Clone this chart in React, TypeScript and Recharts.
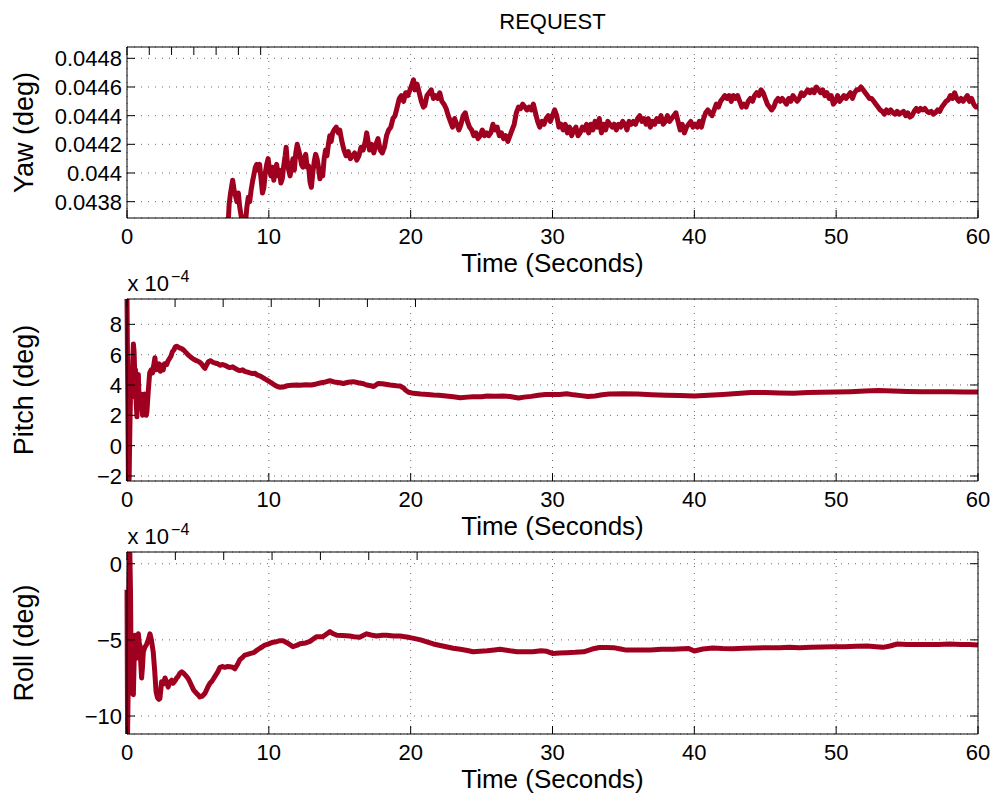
import { LineChart, Line, XAxis, YAxis, CartesianGrid } from "recharts";

// values
const TIME_TICKS = [0, 10, 20, 30, 40, 50, 60];

const YAW_TICKS = [0.0438, 0.044, 0.0442, 0.0444, 0.0446, 0.0448];
const YAW_TICK_LABELS = ["0.0438", "0.044", "0.0442", "0.0444", "0.0446", "0.0448"];
const YAW_DOMAIN = [0.043686, 0.044879];

const PITCH_TICKS = [-2, 0, 2, 4, 6, 8];
const PITCH_TICK_LABELS = ["\u22122", "0", "2", "4", "6", "8"];
const PITCH_DOMAIN = [-2.33, 9.67];

const ROLL_TICKS = [-10, -5, 0];
const ROLL_TICK_LABELS = ["\u221210", "\u22125", "0"];
const ROLL_DOMAIN = [-11.18, 0.77];

// [time s, yaw deg]
const YAW: [number, number][] = [
  [7.1, 0.0436], [7.15, 0.04368], [7.2, 0.04378], [7.3, 0.04386], [7.4, 0.04392], [7.45, 0.04395],
  [7.55, 0.04388], [7.65, 0.04384], [7.75, 0.0438], [7.85, 0.04386], [7.95, 0.04376], [8.05, 0.0437],
  [8.15, 0.04364], [8.25, 0.04362], [8.35, 0.04365], [8.45, 0.04376], [8.55, 0.04383], [8.65, 0.0438],
  [8.75, 0.04388], [8.85, 0.04394], [8.95, 0.04399], [9.05, 0.04404], [9.15, 0.04406], [9.25, 0.04402],
  [9.35, 0.04406], [9.45, 0.04396], [9.55, 0.04386], [9.65, 0.0439], [9.75, 0.044], [9.85, 0.04406],
  [9.95, 0.0441], [10.05, 0.04402], [10.15, 0.04398], [10.25, 0.04404], [10.35, 0.04395], [10.45, 0.04402],
  [10.55, 0.04406], [10.65, 0.04398], [10.75, 0.04402], [10.85, 0.04393], [10.95, 0.04396], [11.05, 0.04405],
  [11.15, 0.04412], [11.22, 0.04418], [11.3, 0.04408], [11.4, 0.04402], [11.5, 0.04398], [11.6, 0.04404],
  [11.7, 0.0441], [11.8, 0.04402], [11.9, 0.04414], [12.0, 0.0442], [12.1, 0.04416], [12.2, 0.04412],
  [12.3, 0.04406], [12.4, 0.04404], [12.5, 0.0441], [12.6, 0.04413], [12.7, 0.04404], [12.8, 0.04405],
  [12.9, 0.04394], [13.0, 0.0439], [13.1, 0.044], [13.2, 0.04408], [13.3, 0.04413], [13.4, 0.0441],
  [13.5, 0.04404], [13.6, 0.04396], [13.7, 0.04402], [13.8, 0.04398], [13.9, 0.0441], [14.0, 0.04416],
  [14.1, 0.04412], [14.2, 0.0442], [14.3, 0.04426], [14.4, 0.04422], [14.5, 0.04428], [14.6, 0.0443],
  [14.75, 0.04432], [14.9, 0.04428], [15.0, 0.0443], [15.15, 0.04422], [15.3, 0.04416], [15.45, 0.04412],
  [15.6, 0.04415], [15.75, 0.0441], [15.9, 0.04412], [16.05, 0.04414], [16.2, 0.04409], [16.35, 0.04412],
  [16.5, 0.04418], [16.65, 0.04416], [16.8, 0.04422], [16.9, 0.04428], [17.0, 0.04422], [17.1, 0.04416],
  [17.25, 0.0442], [17.4, 0.04414], [17.55, 0.0442], [17.7, 0.04424], [17.85, 0.04416], [18.0, 0.04414],
  [18.15, 0.04418], [18.3, 0.04426], [18.45, 0.0443], [18.6, 0.04432], [18.75, 0.04438], [18.9, 0.0444],
  [19.05, 0.04446], [19.2, 0.04452], [19.35, 0.04454], [19.5, 0.0445], [19.65, 0.04456], [19.8, 0.04454],
  [19.95, 0.04458], [20.1, 0.04462], [20.2, 0.04465], [20.3, 0.04458], [20.45, 0.04462], [20.6, 0.04456],
  [20.75, 0.0445], [20.9, 0.04446], [21.0, 0.04447], [21.15, 0.04454], [21.3, 0.04456], [21.45, 0.04458],
  [21.6, 0.04452], [21.75, 0.04454], [21.9, 0.04452], [22.05, 0.04456], [22.2, 0.0445], [22.35, 0.04448],
  [22.5, 0.04445], [22.65, 0.0444], [22.8, 0.04436], [22.95, 0.04432], [23.1, 0.04438], [23.25, 0.04434],
  [23.4, 0.0443], [23.55, 0.04434], [23.7, 0.0444], [23.85, 0.04442], [24.0, 0.04436], [24.15, 0.04432],
  [24.3, 0.0443], [24.45, 0.04426], [24.6, 0.04428], [24.75, 0.04424], [24.9, 0.04426], [25.05, 0.0443],
  [25.2, 0.04426], [25.35, 0.04428], [25.5, 0.04426], [25.65, 0.04428], [25.8, 0.04434], [25.95, 0.0443],
  [26.1, 0.04432], [26.25, 0.04426], [26.4, 0.04428], [26.55, 0.04424], [26.7, 0.04426], [26.85, 0.04422],
  [27.0, 0.04426], [27.15, 0.0443], [27.3, 0.04434], [27.45, 0.04442], [27.6, 0.04446], [27.75, 0.04445],
  [27.9, 0.04448], [28.05, 0.04446], [28.2, 0.04444], [28.35, 0.04446], [28.5, 0.04444], [28.65, 0.04448],
  [28.8, 0.04442], [28.95, 0.04436], [29.1, 0.04432], [29.25, 0.04436], [29.4, 0.04434], [29.55, 0.04438],
  [29.7, 0.0444], [29.85, 0.04436], [30.0, 0.0444], [30.15, 0.04444], [30.3, 0.0444], [30.45, 0.04432],
  [30.6, 0.04434], [30.75, 0.0443], [30.9, 0.04434], [31.05, 0.04428], [31.2, 0.04432], [31.35, 0.04426],
  [31.5, 0.0443], [31.65, 0.04432], [31.8, 0.04426], [31.95, 0.04428], [32.1, 0.04432], [32.25, 0.0443],
  [32.4, 0.04434], [32.55, 0.04428], [32.7, 0.04434], [32.85, 0.0443], [33.0, 0.04436], [33.15, 0.04432],
  [33.3, 0.04438], [33.45, 0.04428], [33.6, 0.04434], [33.75, 0.0443], [33.9, 0.04436], [34.05, 0.04434],
  [34.2, 0.04432], [34.35, 0.04434], [34.5, 0.0443], [34.65, 0.04434], [34.8, 0.04432], [34.95, 0.04436],
  [35.1, 0.04434], [35.25, 0.0443], [35.4, 0.04436], [35.55, 0.04434], [35.7, 0.04436], [35.85, 0.04434],
  [36.0, 0.04438], [36.15, 0.0444], [36.3, 0.04436], [36.45, 0.04438], [36.6, 0.04434], [36.75, 0.04438],
  [36.9, 0.04432], [37.05, 0.04436], [37.2, 0.04434], [37.35, 0.04438], [37.5, 0.04436], [37.65, 0.0444],
  [37.8, 0.04434], [37.95, 0.04436], [38.1, 0.0444], [38.25, 0.04436], [38.4, 0.04438], [38.55, 0.0444],
  [38.7, 0.04442], [38.85, 0.04436], [39.0, 0.0443], [39.15, 0.04434], [39.3, 0.04428], [39.45, 0.04432],
  [39.6, 0.04434], [39.75, 0.04436], [39.9, 0.04432], [40.05, 0.04434], [40.2, 0.04432], [40.35, 0.04436],
  [40.5, 0.04432], [40.65, 0.04438], [40.8, 0.04442], [40.95, 0.04444], [41.1, 0.04442], [41.25, 0.0444],
  [41.4, 0.04444], [41.55, 0.04448], [41.7, 0.04446], [41.85, 0.0445], [42.0, 0.04452], [42.15, 0.04454],
  [42.3, 0.04452], [42.45, 0.04454], [42.6, 0.0445], [42.75, 0.04454], [42.9, 0.04452], [43.05, 0.04454],
  [43.2, 0.0445], [43.35, 0.04446], [43.5, 0.04448], [43.65, 0.04446], [43.8, 0.0445], [43.95, 0.04452],
  [44.1, 0.0445], [44.25, 0.04454], [44.4, 0.04456], [44.55, 0.04454], [44.7, 0.04458], [44.85, 0.04456],
  [45.0, 0.04452], [45.15, 0.04448], [45.3, 0.04446], [45.45, 0.04444], [45.6, 0.04446], [45.75, 0.0445],
  [45.9, 0.04452], [46.05, 0.0445], [46.2, 0.04452], [46.35, 0.0445], [46.5, 0.04448], [46.65, 0.04452],
  [46.8, 0.0445], [46.95, 0.04454], [47.1, 0.04452], [47.25, 0.0445], [47.4, 0.04452], [47.55, 0.04456],
  [47.7, 0.04454], [47.85, 0.04456], [48.0, 0.04458], [48.15, 0.04456], [48.3, 0.04458], [48.45, 0.04456],
  [48.6, 0.0446], [48.75, 0.04458], [48.9, 0.04456], [49.05, 0.04458], [49.2, 0.04454], [49.35, 0.04456],
  [49.5, 0.04452], [49.65, 0.04454], [49.8, 0.04448], [49.95, 0.0445], [50.1, 0.04454], [50.25, 0.0445],
  [50.4, 0.04452], [50.55, 0.04454], [50.7, 0.04452], [50.85, 0.04454], [51.0, 0.04456], [51.15, 0.04452],
  [51.3, 0.04456], [51.45, 0.04458], [51.6, 0.04458], [51.75, 0.0446], [51.9, 0.04458], [52.05, 0.04456],
  [52.2, 0.04454], [52.35, 0.04452], [52.5, 0.04452], [52.65, 0.0445], [52.8, 0.04448], [52.95, 0.04446],
  [53.1, 0.04444], [53.25, 0.04443], [53.4, 0.04441], [53.55, 0.04444], [53.7, 0.04442], [53.85, 0.04444],
  [54.0, 0.04442], [54.15, 0.04441], [54.3, 0.04443], [54.45, 0.04441], [54.6, 0.04442], [54.75, 0.04443],
  [54.9, 0.0444], [55.05, 0.04442], [55.2, 0.04439], [55.35, 0.0444], [55.5, 0.04443], [55.65, 0.04445],
  [55.8, 0.04443], [55.95, 0.04445], [56.1, 0.04444], [56.25, 0.04445], [56.4, 0.04443], [56.55, 0.04442],
  [56.7, 0.04443], [56.85, 0.04441], [57.0, 0.04442], [57.15, 0.04444], [57.3, 0.04443], [57.45, 0.04446],
  [57.6, 0.04448], [57.75, 0.0445], [57.9, 0.04451], [58.05, 0.04454], [58.2, 0.04452], [58.35, 0.04456],
  [58.5, 0.04452], [58.65, 0.0445], [58.8, 0.04452], [58.95, 0.0445], [59.1, 0.04452], [59.25, 0.04454],
  [59.4, 0.0445], [59.55, 0.04452], [59.7, 0.04448], [59.85, 0.04446], [60.0, 0.04446],
];

// [time s, pitch deg x 1e-4]
const PITCH: [number, number][] = [
  [0.0, 9.67], [0.05, 4.0], [0.1, -2.33], [0.15, -2.2], [0.2, 1.0], [0.25, 3.5], [0.3, 4.5], [0.35, 3.2],
  [0.4, 5.5], [0.45, 6.7], [0.5, 6.2], [0.55, 4.6], [0.6, 5.0], [0.65, 2.8], [0.7, 1.9], [0.75, 3.6],
  [0.8, 4.7], [0.85, 3.0], [0.9, 2.5], [0.95, 3.3], [1.0, 3.4], [1.05, 2.6], [1.1, 2.0], [1.15, 2.4],
  [1.2, 3.2], [1.25, 3.4], [1.3, 2.8], [1.35, 2.0], [1.4, 2.2], [1.5, 3.6], [1.6, 4.8], [1.7, 5.0],
  [1.8, 4.8], [1.9, 5.4], [1.97, 5.8], [2.05, 5.0], [2.15, 5.2], [2.25, 5.4], [2.35, 4.9], [2.45, 5.3],
  [2.55, 5.0], [2.65, 5.4], [2.8, 5.35], [2.9, 5.6], [3.0, 5.75], [3.1, 5.9], [3.2, 6.2], [3.3, 6.3],
  [3.4, 6.5], [3.5, 6.55], [3.6, 6.5], [3.7, 6.45], [3.85, 6.4], [4.0, 6.3], [4.2, 6.1], [4.35, 5.95],
  [4.55, 5.8], [4.7, 5.7], [4.9, 5.6], [5.05, 5.55], [5.25, 5.4], [5.4, 5.2], [5.5, 5.1], [5.6, 5.3],
  [5.75, 5.55], [5.9, 5.6], [6.05, 5.5], [6.2, 5.45], [6.4, 5.4], [6.55, 5.3], [6.75, 5.35], [6.9, 5.3],
  [7.1, 5.2], [7.25, 5.15], [7.45, 5.2], [7.6, 5.1], [7.8, 5.0], [7.96, 4.95], [8.15, 5.0], [8.3, 4.9],
  [8.5, 4.85], [8.66, 4.8], [8.85, 4.75], [9.0, 4.78], [9.2, 4.65], [9.37, 4.6], [9.55, 4.5], [9.72, 4.4],
  [9.9, 4.3], [10.07, 4.2], [10.25, 4.1], [10.4, 4.0], [10.6, 3.9], [10.8, 3.85], [11.0, 3.86], [11.3, 3.95],
  [11.6, 3.98], [12.0, 4.0], [12.2, 3.98], [12.6, 4.02], [13.0, 4.0], [13.35, 4.07], [13.7, 4.15], [14.0, 4.2],
  [14.3, 4.28], [14.6, 4.2], [15.0, 4.15], [15.25, 4.1], [15.6, 4.18], [15.95, 4.22], [16.3, 4.15], [16.6, 4.1],
  [16.9, 4.0], [17.2, 3.95], [17.4, 3.9], [17.7, 4.1], [18.0, 4.08], [18.55, 4.0], [19.0, 3.95], [19.25, 3.93],
  [19.5, 3.8], [19.65, 3.65], [19.85, 3.52], [20.2, 3.45], [20.7, 3.4], [21.2, 3.38], [21.6, 3.34], [22.0, 3.32],
  [22.5, 3.27], [23.0, 3.22], [23.5, 3.16], [24.0, 3.2], [24.4, 3.23], [25.0, 3.22], [25.4, 3.27], [26.0, 3.26],
  [26.5, 3.27], [27.0, 3.24], [27.6, 3.14], [28.0, 3.2], [28.5, 3.25], [29.0, 3.32], [29.5, 3.37], [30.0, 3.38],
  [30.5, 3.38], [31.0, 3.42], [31.5, 3.35], [32.0, 3.3], [32.5, 3.24], [33.0, 3.28], [33.5, 3.36], [34.0, 3.4],
  [35.0, 3.42], [36.0, 3.4], [37.0, 3.36], [38.0, 3.32], [39.0, 3.3], [40.0, 3.27], [41.0, 3.32], [42.0, 3.38],
  [43.0, 3.44], [44.0, 3.5], [45.0, 3.5], [46.0, 3.47], [47.0, 3.45], [48.0, 3.5], [49.0, 3.52], [50.0, 3.54],
  [51.0, 3.56], [52.0, 3.6], [53.0, 3.63], [54.0, 3.6], [55.0, 3.57], [56.0, 3.55], [57.0, 3.55], [58.0, 3.56],
  [59.0, 3.54], [60.0, 3.54],
];

// [time s, roll deg x 1e-4]
const ROLL: [number, number][] = [
  [0.0, -1.7], [0.04, -11.18], [0.1, -7.0], [0.15, -1.0], [0.2, 0.7], [0.25, -2.0], [0.3, -8.5], [0.35, -6.0],
  [0.4, -4.8], [0.45, -8.6], [0.5, -6.5], [0.56, -4.7], [0.62, -5.5], [0.68, -6.2], [0.74, -5.0], [0.8, -4.6],
  [0.86, -5.2], [0.92, -5.4], [0.97, -6.5], [1.03, -7.5], [1.09, -6.8], [1.15, -5.8], [1.25, -5.5], [1.38, -5.3],
  [1.5, -5.0], [1.62, -4.6], [1.72, -5.0], [1.85, -5.8], [1.95, -7.0], [2.05, -8.4], [2.15, -8.8], [2.25, -8.9],
  [2.32, -8.85], [2.44, -7.75], [2.56, -7.9], [2.68, -7.5], [2.8, -7.8], [2.9, -8.1], [3.0, -7.8], [3.15, -7.65],
  [3.25, -7.85], [3.38, -7.7], [3.5, -7.5], [3.6, -7.4], [3.72, -7.2], [3.85, -7.1], [4.0, -7.2], [4.2, -7.4],
  [4.35, -7.6], [4.55, -8.0], [4.7, -8.3], [4.85, -8.45], [5.0, -8.6], [5.14, -8.75], [5.3, -8.7], [5.5, -8.5],
  [5.7, -8.1], [5.85, -7.85], [6.0, -7.7], [6.2, -7.4], [6.4, -7.1], [6.55, -6.8], [6.75, -6.75], [6.9, -6.8],
  [7.1, -6.75], [7.25, -6.77], [7.45, -6.8], [7.6, -6.9], [7.8, -6.6], [7.96, -6.3], [8.15, -6.15], [8.3, -6.0],
  [8.5, -5.95], [8.66, -5.9], [8.85, -5.85], [9.0, -5.8], [9.2, -5.65], [9.37, -5.55], [9.55, -5.45], [9.72, -5.35],
  [9.9, -5.3], [10.07, -5.23], [10.3, -5.15], [10.54, -5.12], [10.8, -5.05], [11.0, -5.05], [11.3, -5.2], [11.7, -5.45],
  [12.0, -5.35], [12.2, -5.25], [12.6, -5.2], [12.9, -5.1], [13.35, -4.8], [13.8, -4.8], [14.1, -4.6], [14.3, -4.46],
  [14.55, -4.6], [14.8, -4.7], [15.2, -4.72], [15.7, -4.75], [16.0, -4.8], [16.4, -4.82], [16.9, -4.6], [17.2, -4.68],
  [17.6, -4.75], [18.0, -4.7], [18.3, -4.7], [18.8, -4.75], [19.25, -4.75], [19.6, -4.8], [19.95, -4.85], [20.3, -4.92],
  [20.7, -5.0], [21.2, -5.15], [21.6, -5.27], [22.0, -5.35], [22.5, -5.45], [23.0, -5.55], [23.5, -5.62], [24.0, -5.7],
  [24.4, -5.78], [24.9, -5.74], [25.4, -5.71], [25.9, -5.66], [26.3, -5.62], [27.0, -5.72], [27.5, -5.78], [28.0, -5.78],
  [28.6, -5.78], [29.2, -5.71], [29.6, -5.75], [30.0, -5.89], [30.5, -5.86], [31.0, -5.84], [31.6, -5.82], [32.2, -5.78],
  [32.8, -5.6], [33.3, -5.5], [33.8, -5.5], [34.3, -5.51], [34.8, -5.6], [35.2, -5.67], [36.0, -5.67], [36.9, -5.67],
  [37.7, -5.62], [38.5, -5.62], [39.2, -5.58], [39.6, -5.56], [40.0, -5.73], [40.6, -5.6], [41.3, -5.54], [42.0, -5.57],
  [42.7, -5.58], [43.5, -5.55], [44.3, -5.53], [45.1, -5.51], [46.0, -5.52], [46.7, -5.49], [47.4, -5.51], [48.2, -5.48],
  [49.0, -5.47], [49.8, -5.45], [50.6, -5.45], [51.4, -5.42], [52.2, -5.4], [52.8, -5.45], [53.3, -5.49], [53.8, -5.4],
  [54.3, -5.27], [55.0, -5.3], [55.7, -5.3], [56.5, -5.3], [57.2, -5.3], [58.0, -5.27], [58.8, -5.3], [59.4, -5.3],
  [60.0, -5.34],
];

const FONT = "'Liberation Sans', Arial, Helvetica, sans-serif";
const LINE_COLOR = "#a00020";
const TICK_LEN = 8;
const PLOT_LEFT = 127;
const PLOT_RIGHT_GAP = 19;

function labelFor(value: number, ticks: number[], labels: string[]) {
  const i = ticks.indexOf(value);
  return i >= 0 ? labels[i] : String(value);
}

function BottomTick(props: any) {
  const { x, y, payload } = props;
  return (
    <g>
      <line x1={x} y1={y} x2={x} y2={y - TICK_LEN} stroke="#000" />
      <text x={x} y={y + 26} textAnchor="middle" fontSize={22} fontFamily={FONT} fill="#000">
        {payload.value}
      </text>
    </g>
  );
}

function TopTick(props: any) {
  const { x, y } = props;
  return <line x1={x} y1={y} x2={x} y2={y + TICK_LEN} stroke="#000" />;
}

function RightTick(props: any) {
  const { x, y } = props;
  return <line x1={x} y1={y} x2={x - TICK_LEN} y2={y} stroke="#000" />;
}

interface PanelProps {
  top: number;
  height: number;
  plotTop: number;
  plotBottom: number;
  samples: [number, number][];
  domain: number[];
  ticks: number[];
  tickLabels: string[];
  yLabel: string;
  title?: string;
  exponent?: boolean;
}

function Panel({ top, height, plotTop, plotBottom, samples, domain, ticks, tickLabels, yLabel, title, exponent }: PanelProps) {
  const rows = samples.map(([t, v]) => ({ t, v }));
  const midY = (plotTop + plotBottom) / 2;
  const midX = (PLOT_LEFT + 997 - PLOT_RIGHT_GAP) / 2;

  const leftTick = (p: any) => (
    <g>
      <line x1={p.x} y1={p.y} x2={p.x + TICK_LEN} y2={p.y} stroke="#000" />
      <text x={p.x - 5} y={p.y + 8} textAnchor="end" fontSize={22} fontFamily={FONT} fill="#000">
        {labelFor(p.payload.value, ticks, tickLabels)}
      </text>
    </g>
  );

  // axes get 1px of room each (zero-sized axes are not drawn)
  return (
    <div style={{ position: "absolute", left: 0, top, width: 997, height }}>
      <LineChart
        width={997}
        height={height}
        data={rows}
        margin={{ top: plotTop - 1, right: PLOT_RIGHT_GAP - 1, bottom: height - plotBottom - 1, left: PLOT_LEFT - 1 }}
      >
        <CartesianGrid stroke="#666" strokeDasharray="1 6" />
        <XAxis
          dataKey="t"
          type="number"
          domain={[0, 60]}
          ticks={TIME_TICKS}
          interval={0}
          height={1}
          tickSize={0}
          tickMargin={0}
          tickLine={false}
          axisLine={{ stroke: "#000" }}
          tick={BottomTick}
          label={{
            content: () => (
              <text x={midX} y={plotBottom + 54} textAnchor="middle" fontSize={26} fontFamily={FONT} fill="#000">
                Time (Seconds)
              </text>
            ),
          }}
        />
        <XAxis
          xAxisId="top"
          orientation="top"
          type="number"
          domain={[0, 60]}
          ticks={TIME_TICKS}
          interval={0}
          height={1}
          tickSize={0}
          tickMargin={0}
          tickLine={false}
          axisLine={{ stroke: "#000" }}
          tick={TopTick}
          label={
            title
              ? {
                  content: () => (
                    <text x={midX} y={plotTop - 18.5} textAnchor="middle" fontSize={22} fontFamily={FONT} fill="#000">
                      {title}
                    </text>
                  ),
                }
              : undefined
          }
        />
        <YAxis
          type="number"
          domain={domain}
          allowDataOverflow
          ticks={ticks}
          interval={0}
          width={1}
          tickSize={0}
          tickMargin={0}
          tickLine={false}
          axisLine={{ stroke: "#000" }}
          tick={leftTick}
          label={{
            content: () => (
              <g>
                <text
                  x={33}
                  y={midY}
                  transform={`rotate(-90 33 ${midY})`}
                  textAnchor="middle"
                  fontSize={27}
                  fontFamily={FONT}
                  fill="#000"
                >
                  {yLabel}
                </text>
                {exponent && (
                  <text x={127.5} y={plotTop - 8} fontSize={22} fontFamily={FONT} fill="#000">
                    x 10
                    <tspan dx={2} dy={-9} fontSize={16}>
                      {"\u22124"}
                    </tspan>
                  </text>
                )}
              </g>
            ),
          }}
        />
        <YAxis
          yAxisId="right"
          orientation="right"
          type="number"
          domain={domain}
          allowDataOverflow
          ticks={ticks}
          interval={0}
          width={1}
          tickSize={0}
          tickMargin={0}
          tickLine={false}
          axisLine={{ stroke: "#000" }}
          tick={RightTick}
        />
        <Line
          type="linear"
          dataKey="v"
          stroke={LINE_COLOR}
          strokeWidth={5}
          strokeLinejoin="round"
          dot={false}
          activeDot={false}
          isAnimationActive={false}
        />
      </LineChart>
    </div>
  );
}

export default function App() {
  return (
    <div style={{ position: "absolute", left: 0, top: 0, width: 997, height: 794, background: "#fff" }}>
      <Panel
        top={0}
        height={282}
        plotTop={47}
        plotBottom={218}
        samples={YAW}
        domain={YAW_DOMAIN}
        ticks={YAW_TICKS}
        tickLabels={YAW_TICK_LABELS}
        yLabel="Yaw (deg)"
        title="REQUEST"
      />
      <Panel
        top={262}
        height={280}
        plotTop={37}
        plotBottom={219}
        samples={PITCH}
        domain={PITCH_DOMAIN}
        ticks={PITCH_TICKS}
        tickLabels={PITCH_TICK_LABELS}
        yLabel="Pitch (deg)"
        exponent
      />
      <Panel
        top={515}
        height={279}
        plotTop={37}
        plotBottom={219}
        samples={ROLL}
        domain={ROLL_DOMAIN}
        ticks={ROLL_TICKS}
        tickLabels={ROLL_TICK_LABELS}
        yLabel="Roll (deg)"
        exponent
      />
    </div>
  );
}
